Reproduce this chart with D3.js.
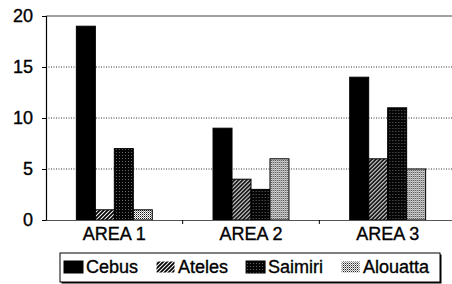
<!DOCTYPE html>
<html>
<head>
<meta charset="utf-8">
<script src="https://cdn.jsdelivr.net/npm/d3@7"></script>
<style>
  body { margin: 0; background: #fff; }
  svg { display: block; font-family: "Liberation Sans", Arial, sans-serif; }
  text { stroke: #000; stroke-width: 0.35px; }
</style>
</head>
<body>
<div id="chart"></div>
<script>
// data
var areas = ["AREA 1", "AREA 2", "AREA 3"];
var species = ["Cebus", "Ateles", "Saimiri", "Alouatta"];
var cebus = [19, 9, 14];
var ateles = [1, 4, 6];
var saimiri = [7, 3, 11];
var alouatta = [1, 6, 5];
var yTicks = [0, 5, 10, 15, 20];

var seriesValues = [cebus, ateles, saimiri, alouatta];
var fills = ["#000", "url(#hatch)", "url(#darkdots)", "url(#lightdots)"];

// set the dimensions and margins of the graph
var margin = {top: 16, right: 0, bottom: 64, left: 46},
    width = 410,
    height = 204;

var svg = d3.select("#chart")
    .append("svg")
    .attr("width", 452)
    .attr("height", 284);

// fill patterns
var defs = svg.append("defs");

var hatch = defs.append("pattern")
    .attr("id", "hatch")
    .attr("patternUnits", "userSpaceOnUse")
    .attr("width", 4).attr("height", 4);
hatch.append("rect").attr("width", 4).attr("height", 4).attr("fill", "#fff");
hatch.append("path")
    .attr("d", "M-1,1 l2,-2 M0,4 l4,-4 M3,5 l2,-2")
    .attr("stroke", "#000")
    .attr("stroke-width", 1.8);

var darkdots = defs.append("pattern")
    .attr("id", "darkdots")
    .attr("patternUnits", "userSpaceOnUse")
    .attr("width", 3).attr("height", 3);
darkdots.append("rect").attr("width", 3).attr("height", 3).attr("fill", "#050505");
darkdots.append("rect").attr("x", 1).attr("y", 1).attr("width", 1).attr("height", 1).attr("fill", "#666");

var lightdots = defs.append("pattern")
    .attr("id", "lightdots")
    .attr("patternUnits", "userSpaceOnUse")
    .attr("width", 2).attr("height", 2);
lightdots.append("rect").attr("width", 2).attr("height", 2).attr("fill", "#fff");
lightdots.append("rect").attr("width", 1).attr("height", 1).attr("fill", "#111");
lightdots.append("rect").attr("x", 1).attr("y", 1).attr("width", 1).attr("height", 1).attr("fill", "#888");

var g = svg.append("g")
    .attr("transform", "translate(" + margin.left + "," + margin.top + ")");

// scales
var x0 = d3.scaleBand()
    .domain(areas)
    .range([0, width])
    .padding(0);

var x1 = d3.scaleBand()
    .domain(species)
    .range([0, x0.bandwidth()])
    .paddingInner(0)
    .paddingOuter(1.6);

var y = d3.scaleLinear()
    .domain([0, 20])
    .range([height, 0]);

// gridlines
g.selectAll(".grid")
    .data(yTicks.filter(function(d) { return d > 0 && d < 20; }))
    .enter()
    .append("line")
    .attr("x1", 0)
    .attr("x2", width)
    .attr("y1", function(d) { return y(d); })
    .attr("y2", function(d) { return y(d); })
    .attr("stroke", "#333")
    .attr("stroke-width", 1)
    .attr("stroke-dasharray", "1,1.5");

// top frame line
g.append("line")
    .attr("x1", 0).attr("x2", width)
    .attr("y1", y(20)).attr("y2", y(20))
    .attr("stroke", "#444")
    .attr("stroke-width", 1.2);

// bars
var groups = g.selectAll(".area")
    .data(areas)
    .enter()
    .append("g")
    .attr("transform", function(d) { return "translate(" + x0(d) + ",0)"; });

groups.selectAll("rect")
    .data(function(a, i) {
        return species.map(function(s, j) { return {s: s, v: seriesValues[j][i], j: j}; });
    })
    .enter()
    .append("rect")
    .attr("x", function(d) { return x1(d.s); })
    .attr("y", function(d) { return y(d.v); })
    .attr("width", x1.bandwidth())
    .attr("height", function(d) { return y(0) - y(d.v); })
    .attr("fill", function(d) { return fills[d.j]; })
    .attr("stroke", "#000")
    .attr("stroke-width", 1);

// Y axis
var yAxis = g.append("g")
    .call(d3.axisLeft(y).tickValues(yTicks).tickSize(4).tickPadding(9));
yAxis.select(".domain").attr("stroke", "#000").attr("stroke-width", 1.2);
yAxis.selectAll("text")
    .style("font-size", "18px")
    .attr("fill", "#000");

// X axis
var xAxis = g.append("g")
    .attr("transform", "translate(0," + height + ")")
    .call(d3.axisBottom(x0).tickSize(0).tickPadding(7));
xAxis.select(".domain").attr("stroke", "#555").attr("stroke-width", 1.2);
xAxis.selectAll("text")
    .style("font-size", "18px")
    .attr("fill", "#000");

// category divider ticks
g.selectAll(".divtick")
    .data(areas.slice(1))
    .enter()
    .append("line")
    .attr("x1", function(d) { return x0(d); })
    .attr("x2", function(d) { return x0(d); })
    .attr("y1", height)
    .attr("y2", height + 4)
    .attr("stroke", "#000");

// legend
var legend = svg.append("g").attr("transform", "translate(60,253)");
legend.append("rect")
    .attr("x", 1.5).attr("y", 1.5)
    .attr("width", 380).attr("height", 29)
    .attr("fill", "#000");
legend.append("rect")
    .attr("x", 0).attr("y", 0)
    .attr("width", 380).attr("height", 29)
    .attr("fill", "#fff")
    .attr("stroke", "#000")
    .attr("stroke-width", 1);

var lx = 4;
species.forEach(function(s, j) {
    var item = legend.append("g").attr("transform", "translate(" + lx + ",0)");
    item.append("rect")
        .attr("x", 0).attr("y", 8)
        .attr("width", 19).attr("height", 12)
        .attr("fill", fills[j])
        .attr("stroke", j === 0 || j === 2 ? "#000" : "#fff")
        .attr("stroke-width", 1);
    var t = item.append("text")
        .attr("x", 22)
        .attr("y", 20)
        .style("font-size", "18px")
        .text(s);
    lx += 22 + t.node().getComputedTextLength() + 18;
});
</script>
</body>
</html>
